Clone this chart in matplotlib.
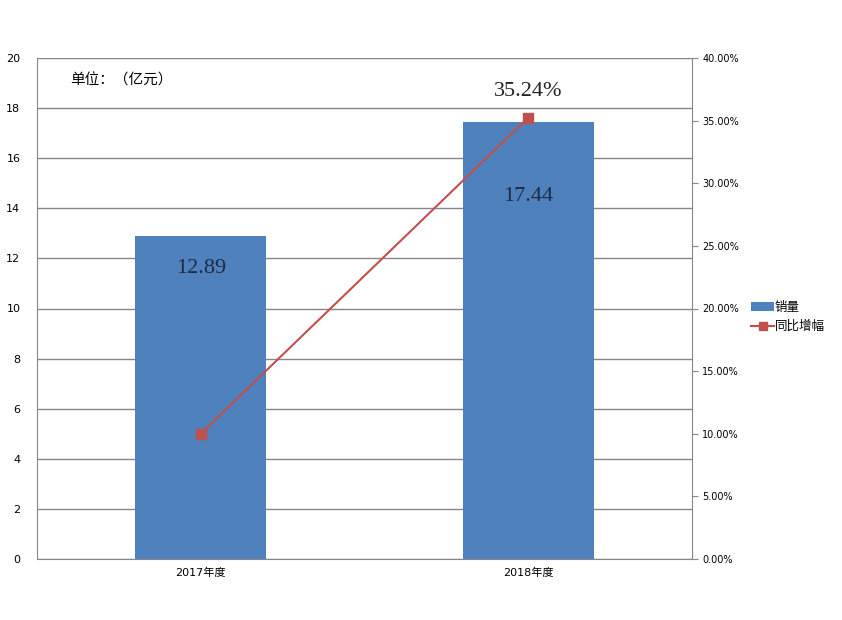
import numpy as np
import matplotlib
matplotlib.use("Agg")
import matplotlib.pyplot as plt
from matplotlib.ticker import FuncFormatter

plt.rcParams['font.family'] = ['DejaVu Sans', 'Noto Sans CJK SC']

# data
years = ['2017年度', '2018年度']
sales = [12.89, 17.44]          # 销量 (亿元)
growth = [10.0, 35.24]          # 同比增幅 (%)
left_ticks = list(range(0, 21, 2))
right_ticks = [0, 5, 10, 15, 20, 25, 30, 35, 40]

bar_color = '#4F81BD'
line_color = '#C0504D'
grey = '#868686'

fig = plt.figure(figsize=(8.42, 6.2), dpi=100)
ax = fig.add_axes([37/842, 61/620, 655/842, 501/620])
x = np.arange(len(years))

ax.bar(x, sales, width=0.4, color=bar_color, zorder=2, label='销量')
ax.set_xlim(-0.5, 1.5)
ax.set_ylim(0, 20)
ax.set_yticks(left_ticks)
ax.yaxis.grid(True, color=grey, linewidth=1)
ax.set_axisbelow(True)
ax.set_xticks(x)
ax.set_xticklabels(years, family=['DejaVu Sans', 'Noto Sans CJK SC'], fontsize=8)
ax.tick_params(axis='y', length=0, labelsize=8, pad=12)
ax.tick_params(axis='x', length=0, pad=6)
for s in ['top', 'right']:
    ax.spines[s].set_visible(False)
for s in ['left', 'bottom']:
    ax.spines[s].set_color(grey)

# data labels sit inside the bars (hand placed in the original)
label_drop = [1.3, 2.95]
for xi, v, d in zip(x, sales, label_drop):
    ax.text(xi, v - d, f'{v:.2f}', ha='center', va='center',
            family='Liberation Serif', fontsize=16, color='#1F2A44')

ax.text(0.05, 0.955, '单位：（亿元）', transform=ax.transAxes,
        family=['Noto Sans CJK SC'], fontsize=10.5, va='center')

ax2 = ax.twinx()
ax2.plot(x, growth, color=line_color, marker='s', markersize=7,
         linewidth=1.5, zorder=3, label='同比增幅')
ax2.set_ylim(0, 40)
ax2.set_yticks(right_ticks)
ax2.yaxis.set_major_formatter(FuncFormatter(lambda v, p: f'{v:.2f}%'))
ax2.tick_params(axis='y', length=4, color=grey, labelsize=7)
for s in ['top', 'left', 'bottom']:
    ax2.spines[s].set_visible(False)
ax2.spines['right'].set_color(grey)

ax2.text(x[1], growth[1] + 2.1, f'{growth[1]:.2f}%', ha='center', va='center',
         family='Liberation Serif', fontsize=16, color='#222222')

h1, l1 = ax.get_legend_handles_labels()
h2, l2 = ax2.get_legend_handles_labels()
fig.legend(h1 + h2, l1 + l2, loc='center left', bbox_to_anchor=(745/842, 1 - 317/620),
           frameon=False, prop={'family': ['Noto Sans CJK SC'], 'size': 9},
           handlelength=1.8, handletextpad=0.1, labelspacing=0.5, borderpad=0,
           markerscale=0.9)

fig.savefig('out.png', dpi=100, facecolor='white')
